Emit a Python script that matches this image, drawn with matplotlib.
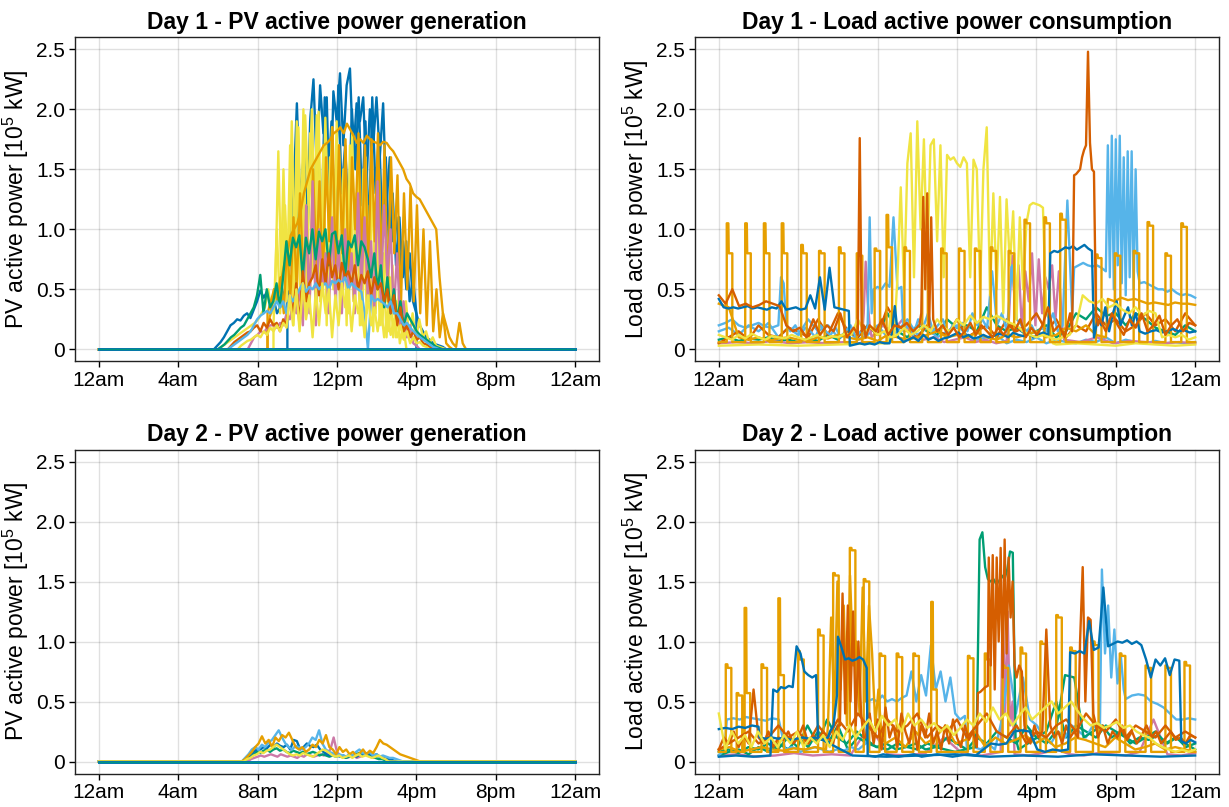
import numpy as np
import matplotlib
matplotlib.use("Agg")
import matplotlib.pyplot as plt

# colours (Wong palette)
blue, orange, green, pink = "#0072B2", "#E69F00", "#009E73", "#CC79A7"
skyblue, red, yellow = "#56B4E9", "#D55E00", "#F0E442"

xticks = [0, 4, 8, 12, 16, 20, 24]
xlabels = ["12am", "4am", "8am", "12pm", "4pm", "8pm", "12am"]
yticks = [0, 0.5, 1.0, 1.5, 2.0, 2.5]
ylabels = ["0", "0.5", "1.0", "1.5", "2.0", "2.5"]

# ---------- Day 1 PV (start hour, end hour, values) ----------
pv1_blue = [(5.8, 17.5, [0.0, 0.03, 0.06, 0.10, 0.15, 0.20, 0.22, 0.25, 0.24, 0.28, 0.30, 0.26, 0.33, 0.40,
                         0.49, 0.43, 0.48, 0.38, 0.42, 0.30, 0.35, 0.45, 0.60, 0.90, 1.30, 2.05, 1.20, 1.60,
                         0.90, 1.90, 2.25, 1.50, 2.20, 1.80, 2.10, 1.00, 2.15, 1.90, 2.30, 1.70, 2.20, 2.34,
                         1.60, 2.05, 1.90, 2.10, 1.40, 2.00, 1.70, 2.10, 1.60, 2.05, 1.20, 1.60, 0.90, 1.10,
                         0.70, 0.90, 0.50, 0.80, 0.40, 0.30, 0.20, 0.15, 0.10, 0.08, 0.05, 0.04, 0.03, 0.02, 0.0])]
pv1_blue2 = [(9.5, 16.0, [0.40, 0.90, 0.50, 1.30, 0.80, 1.60, 1.00, 2.00, 1.20, 1.80, 0.90, 2.10, 1.40, 1.90,
                          1.00, 2.20, 1.30, 1.70, 1.10, 2.00, 1.50, 2.10, 1.20, 1.90, 0.90, 2.10, 1.30, 1.80,
                          1.00, 1.60, 0.80, 1.30, 0.70, 1.10, 0.60, 0.90, 0.40, 0.60, 0.30])]
pv1_yellow = [(6.0, 17.5, [0.0, 0.02, 0.04, 0.06, 0.08, 0.10, 0.12, 0.14, 0.16, 0.18, 0.20, 0.22, 0.25, 0.30,
                           0.35, 0.50, 0.30, 0.40, 1.65, 0.40, 1.20, 0.50, 1.90, 0.60, 1.85, 0.50, 1.95, 1.20,
                           2.00, 0.80, 1.98, 0.45, 1.93, 1.00, 1.85, 0.50, 1.70, 0.90, 1.60, 0.30, 1.80, 0.60,
                           1.50, 0.20, 1.60, 0.40, 1.40, 0.30, 1.50, 0.20, 0.90, 0.15, 0.70, 0.10, 0.50, 0.10,
                           0.40, 0.10, 0.30, 0.08, 0.25, 0.10, 0.15, 0.05, 0.10, 0.03, 0.02, 0.01, 0.0])]
pv1_yellow2 = [(8.8, 15.5, [0.20, 1.00, 0.30, 1.50, 0.40, 1.70, 0.20, 1.90, 0.50, 2.00, 0.30, 1.80, 0.60, 1.95,
                            0.40, 1.70, 0.20, 1.60, 0.50, 1.90, 0.30, 1.50, 0.20, 1.70, 0.40, 1.30, 0.20, 1.50,
                            0.30, 1.20, 0.15, 1.00, 0.20, 0.80, 0.10, 0.60, 0.10, 0.40, 0.05, 0.20, 0.0])]
pv1_orange_smooth = [(8.5, 18.5, [0.30, 0.40, 0.50, 0.45, 0.55, 0.70, 0.80, 0.95, 1.00, 1.05, 1.15, 1.30, 1.40,
                                  1.50, 1.55, 1.60, 1.65, 1.70, 1.72, 1.75, 1.80, 1.82, 1.85, 1.80, 1.88, 1.83,
                                  1.78, 1.72, 1.75, 1.72, 1.78, 1.75, 1.73, 1.72, 1.70, 1.73, 1.72, 1.68, 1.65,
                                  1.60, 1.55, 1.50, 1.42, 1.38, 1.30, 1.27, 1.25, 1.20, 1.15, 1.10, 1.05, 1.00,
                                  0.60, 0.30, 0.20, 0.10, 0.05, 0.02, 0.22, 0.05, 0.0])]
pv1_orange = [(8.5, 17.83, [0.20, 0.30, 0.50, 0.40, 0.60, 0.30, 0.90, 0.40, 1.10, 0.50, 1.30, 0.60, 1.00, 0.40,
                            1.50, 0.70, 1.40, 0.50, 1.60, 0.90, 1.85, 0.60, 1.70, 0.80, 1.75, 0.50, 1.60, 1.00,
                            1.80, 0.70, 1.70, 0.60, 1.75, 0.90, 1.80, 0.60, 1.70, 0.40, 1.60, 0.80, 1.45, 0.30,
                            1.30, 0.50, 1.35, 0.40, 1.20, 0.30, 1.00, 0.20, 0.90, 0.15, 0.50, 0.10, 0.30, 0.05,
                            0.02, 0.0])]
pv1_green = [(6.0, 17.33, [0.0, 0.02, 0.04, 0.07, 0.10, 0.12, 0.15, 0.18, 0.20, 0.25, 0.30, 0.35, 0.45, 0.62,
                           0.30, 0.50, 0.35, 0.40, 0.55, 0.35, 0.60, 0.90, 0.70, 0.93, 0.85, 0.95, 0.60, 0.93,
                           0.80, 1.00, 0.75, 0.98, 0.90, 1.00, 0.70, 0.96, 0.98, 0.80, 0.95, 0.60, 0.90, 0.85,
                           0.95, 0.70, 0.90, 0.85, 0.75, 0.60, 0.80, 0.50, 0.70, 0.35, 0.60, 0.30, 0.50, 0.25,
                           0.40, 0.20, 0.30, 0.25, 0.20, 0.15, 0.12, 0.10, 0.08, 0.06, 0.04, 0.02, 0.01, 0.0])]
pv1_red = [(6.5, 17.0, [0.0, 0.03, 0.06, 0.08, 0.10, 0.12, 0.14, 0.15, 0.18, 0.20, 0.15, 0.22, 0.18, 0.25,
                        0.20, 0.22, 0.15, 0.25, 0.20, 0.45, 0.30, 0.55, 0.20, 0.65, 0.40, 0.55, 0.60, 0.70,
                        0.45, 0.75, 0.55, 0.80, 0.60, 0.70, 0.50, 0.72, 0.60, 0.65, 0.55, 0.70, 0.50, 0.62,
                        0.55, 0.65, 0.45, 0.60, 0.50, 0.55, 0.40, 0.50, 0.30, 0.45, 0.20, 0.35, 0.15, 0.20,
                        0.10, 0.15, 0.08, 0.10, 0.05, 0.04, 0.02, 0.01, 0.0])]
pv1_skyblue = [(6.5, 17.17, [0.0, 0.02, 0.04, 0.06, 0.08, 0.10, 0.12, 0.15, 0.20, 0.25, 0.28, 0.30, 0.32, 0.30,
                             0.35, 0.40, 0.35, 0.40, 0.30, 0.45, 0.40, 0.45, 0.50, 0.55, 0.48, 0.52, 0.50, 0.55,
                             0.50, 0.53, 0.55, 0.50, 0.57, 0.55, 0.58, 0.55, 0.60, 0.50, 0.55, 0.52, 0.50, 0.48,
                             0.30, 0.0, 0.45, 0.40, 0.42, 0.40, 0.38, 0.35, 0.40, 0.30, 0.30, 0.25, 0.20, 0.22,
                             0.18, 0.15, 0.12, 0.10, 0.08, 0.06, 0.04, 0.02, 0.01, 0.0])]
pv1_yellow_low = [(7.0, 16.67, [0.0, 0.03, 0.05, 0.07, 0.08, 0.10, 0.12, 0.10, 0.15, 0.12, 0.18, 0.15, 0.20,
                                0.15, 0.22, 0.18, 0.45, 0.20, 0.50, 0.15, 0.55, 0.25, 0.45, 0.10, 0.50, 0.20,
                                0.55, 0.30, 0.50, 0.10, 0.45, 0.20, 0.55, 0.35, 0.50, 0.15, 0.45, 0.30, 0.40,
                                0.10, 0.45, 0.20, 0.35, 0.15, 0.35, 0.10, 0.30, 0.12, 0.25, 0.10, 0.20, 0.08,
                                0.15, 0.05, 0.10, 0.05, 0.06, 0.03, 0.02, 0.0])]
pv1_pink = [(7.5, 16.17, [0.0, 0.05, 0.10, 0.12, 0.15, 0.14, 0.18, 0.20, 0.20, 0.18, 0.22, 0.20, 0.30, 0.25,
                          0.40, 0.30, 0.50, 0.20, 1.20, 0.30, 1.40, 0.20, 1.00, 0.50, 0.80, 0.30, 1.10, 0.40,
                          0.90, 0.30, 1.00, 0.50, 0.80, 0.30, 1.30, 0.50, 1.10, 0.40, 0.90, 0.30, 1.40, 0.40,
                          1.20, 0.60, 1.00, 0.30, 0.80, 0.20, 0.40, 0.10, 0.20, 0.05, 0.03, 0.0])]

# ---------- Day 2 PV ----------
pv2_orange = [(7.2, 16.2, [0.0, 0.02, 0.05, 0.08, 0.12, 0.15, 0.21, 0.15, 0.18, 0.12, 0.20, 0.17, 0.22, 0.20,
                           0.24, 0.18, 0.12, 0.10, 0.12, 0.08, 0.10, 0.14, 0.12, 0.18, 0.15, 0.22, 0.12, 0.10,
                           0.06, 0.12, 0.08, 0.10, 0.06, 0.08, 0.05, 0.07, 0.10, 0.06, 0.09, 0.07, 0.12, 0.18,
                           0.15, 0.14, 0.12, 0.10, 0.08, 0.06, 0.05, 0.04, 0.03, 0.02, 0.01, 0.0])]
pv2_skyblue = [(7.2, 15.33, [0.0, 0.03, 0.06, 0.10, 0.12, 0.10, 0.14, 0.12, 0.16, 0.18, 0.22, 0.26, 0.20, 0.15,
                             0.12, 0.10, 0.13, 0.12, 0.10, 0.12, 0.15, 0.20, 0.18, 0.26, 0.15, 0.10, 0.08, 0.07,
                             0.05, 0.06, 0.05, 0.04, 0.06, 0.05, 0.08, 0.10, 0.07, 0.06, 0.08, 0.05, 0.06, 0.04,
                             0.05, 0.04, 0.03, 0.03, 0.02, 0.01, 0.0])]
pv2_blue = [(7.3, 15.0, [0.0, 0.03, 0.06, 0.08, 0.10, 0.10, 0.12, 0.11, 0.14, 0.12, 0.15, 0.13, 0.12, 0.14,
                         0.10, 0.18, 0.17, 0.10, 0.12, 0.15, 0.13, 0.12, 0.14, 0.10, 0.08, 0.06, 0.05, 0.06,
                         0.05, 0.04, 0.05, 0.04, 0.06, 0.05, 0.04, 0.06, 0.05, 0.07, 0.06, 0.05, 0.06, 0.04,
                         0.03, 0.02, 0.02, 0.01, 0.0])]
pv2_green = [(7.3, 14.6, [0.0, 0.02, 0.04, 0.06, 0.08, 0.07, 0.09, 0.10, 0.08, 0.10, 0.11, 0.09, 0.10, 0.08,
                          0.07, 0.09, 0.08, 0.07, 0.08, 0.06, 0.07, 0.08, 0.07, 0.05, 0.06, 0.05, 0.04, 0.05,
                          0.04, 0.05, 0.04, 0.03, 0.04, 0.05, 0.06, 0.07, 0.05, 0.06, 0.05, 0.04, 0.03, 0.02,
                          0.02, 0.01, 0.0])]
pv2_yellow = [(7.3, 14.6, [0.0, 0.02, 0.03, 0.05, 0.06, 0.08, 0.07, 0.09, 0.10, 0.12, 0.14, 0.12, 0.10, 0.08,
                           0.06, 0.05, 0.06, 0.05, 0.07, 0.06, 0.05, 0.04, 0.06, 0.08, 0.10, 0.09, 0.07, 0.05,
                           0.04, 0.05, 0.03, 0.04, 0.05, 0.03, 0.05, 0.06, 0.04, 0.05, 0.04, 0.03, 0.04, 0.05,
                           0.03, 0.02, 0.0])]
pv2_pink = [(7.5, 14.83, [0.0, 0.02, 0.03, 0.04, 0.05, 0.04, 0.05, 0.06, 0.05, 0.04, 0.06, 0.05, 0.04, 0.05,
                          0.04, 0.03, 0.05, 0.04, 0.06, 0.05, 0.04, 0.05, 0.06, 0.05, 0.07, 0.10, 0.20, 0.08,
                          0.05, 0.04, 0.03, 0.04, 0.05, 0.03, 0.04, 0.05, 0.06, 0.04, 0.03, 0.05, 0.04, 0.03,
                          0.02, 0.01, 0.0])]

# ---------- Day 1 load ----------
ld1_pulse_start = [0.40, 1.33, 2.27, 3.17, 4.15, 5.05, 6.05, 6.95, 7.85, 8.45, 9.35, 10.25, 11.2, 12.1,
                   12.9, 13.7, 14.6, 15.4, 16.4, 17.2, 19.0, 19.95, 20.9, 21.6, 22.5, 23.3]
ld1_pulse_peak = [1.05, 1.05, 1.05, 1.05, 0.87, 0.82, 0.85, 0.80, 0.84, 1.12, 0.85, 1.00, 0.84, 0.84,
                  0.84, 0.85, 0.82, 1.08, 1.10, 1.13, 0.79, 0.80, 0.82, 1.06, 0.80, 1.05]
ld1_pulse_shoulder = [0.80, 0.80, 0.80, 0.80, 0.80, 0.80, 0.80, 0.78, 0.82, 0.85, 0.82, 0.85, 0.80, 0.82,
                      0.82, 0.82, 0.80, 1.05, 1.05, 1.08, 0.76, 0.78, 0.80, 1.03, 0.78, 1.02]
ld1_pulse_base = 0.06

ld1_yellow_big = [(0.0, 8.0, [0.03, 0.04, 0.03, 0.04, 0.05]),
                  (8.5, 16.83, [0.05, 0.30, 0.10, 0.60, 1.35, 0.50, 1.55, 1.80, 0.60, 1.90, 1.00, 1.75, 0.70,
                                1.70, 1.75, 0.90, 1.70, 0.60, 1.62, 1.58, 1.60, 1.55, 1.52, 1.60, 1.55, 0.60,
                                1.58, 1.50, 0.50, 1.50, 1.85, 0.45, 1.30, 0.50, 1.27, 0.30, 1.25, 0.70, 1.15,
                                0.25, 1.10, 0.50, 1.05, 1.20, 1.22, 1.21, 1.20, 1.18, 0.30, 0.25, 0.05]),
                  (17.0, 24.0, [0.04, 0.05, 0.04, 0.03, 0.05, 0.04, 0.03, 0.04])]
ld1_yellow = [(0.0, 24.0, [0.12, 0.10, 0.08, 0.12, 0.09, 0.13, 0.10, 0.08, 0.11, 0.10, 0.09, 0.12, 0.10,
                           0.08, 0.10, 0.12, 0.09, 0.11, 0.10, 0.13, 0.12, 0.25, 0.15, 0.18, 0.12, 0.15,
                           0.10, 0.12, 0.18, 0.12, 0.15, 0.20, 0.15, 0.25, 0.18, 0.15, 0.25, 0.20, 0.28,
                           0.22, 0.27, 0.25, 0.28, 0.25, 0.22, 0.20, 0.15, 0.12, 0.10, 0.12, 0.10, 0.08,
                           0.10, 0.12, 0.20, 0.45, 0.40, 0.38, 0.42, 0.35, 0.38, 0.33, 0.30, 0.35, 0.28,
                           0.32, 0.30, 0.10, 0.12, 0.10, 0.12, 0.08, 0.10])]
ld1_red = [(0.0, 6.8, [0.45, 0.38, 0.50, 0.36, 0.38, 0.35, 0.37, 0.40, 0.38, 0.36, 0.20, 0.15, 0.18, 0.10,
                       0.25, 0.12, 0.20, 0.15, 0.30, 0.10, 0.18]),
           (7.0, 7.4, [0.12, 1.76, 0.15, 0.20, 0.10]),
           (7.6, 10.1, [0.20, 0.15, 0.25, 0.12, 0.20, 0.18, 0.22, 0.15, 0.20]),
           (10.2, 10.8, [0.30, 1.27, 0.50, 1.30, 0.20, 1.10, 0.25]),
           (11.0, 17.7, [0.15, 0.20, 0.12, 0.18, 0.10, 0.15, 0.22, 0.12, 0.20, 0.15, 0.10, 0.18, 0.12, 0.20,
                         0.15, 0.25, 0.10, 0.18, 0.12, 0.20, 0.35, 0.15, 0.20, 0.10, 0.30]),
           (17.8, 19.1, [0.15, 1.45, 1.46, 1.48, 1.50, 1.60, 1.66, 1.70, 2.48, 1.72, 1.50, 1.48, 0.30, 0.20]),
           (19.2, 24.0, [0.25, 0.15, 0.30, 0.20, 0.12, 0.25, 0.18, 0.30, 0.15, 0.20, 0.28, 0.12, 0.20, 0.25,
                         0.15, 0.22, 0.20])]
ld1_red2 = [(0.0, 24.0, [0.05, 0.10, 0.15, 0.08, 0.20, 0.12, 0.10, 0.18, 0.15, 0.10, 0.25, 0.12, 0.30, 0.15,
                         0.10, 0.20, 0.12, 0.35, 0.20, 0.15, 0.10, 0.20, 0.15, 0.12, 0.25, 0.10, 0.15, 0.20,
                         0.10, 0.25, 0.15, 0.20, 0.30, 0.15, 0.25, 0.10, 0.20, 0.15, 0.30, 0.20, 0.25, 0.15,
                         0.20, 0.30, 0.20, 0.25, 0.15, 0.30, 0.20])]
ld1_skyblue = [(0.0, 3.0, [0.20, 0.22, 0.25, 0.20, 0.18, 0.20, 0.22, 0.19, 0.18, 0.20]),
               (3.0, 3.4, [0.20, 0.60, 0.55, 0.20]),
               (3.6, 7.4, [0.15, 0.20, 0.12, 0.18, 0.15, 0.10, 0.20, 0.15, 0.12, 0.18, 0.10, 0.15, 0.20, 0.10,
                           0.15, 0.12]),
               (7.5, 7.7, [0.20, 1.10, 0.30]),
               (7.8, 9.2, [0.50, 0.52, 0.50, 0.55, 0.52, 1.10, 0.50, 0.52]),
               (9.3, 16.5, [0.15, 0.20, 0.12, 0.25, 0.18, 0.30, 0.15, 0.20, 0.25, 0.12, 0.20, 0.18, 0.22, 0.15,
                            0.30, 0.20, 0.25, 0.18, 0.65, 0.20, 0.30, 0.15, 0.70, 0.25, 0.20, 0.15, 0.20, 0.12,
                            0.18, 0.15]),
               (16.6, 17.8, [0.20, 0.30, 0.15, 0.20, 1.24, 0.30]),
               (17.9, 19.5, [0.68, 0.70, 0.72, 0.70, 0.69, 0.70, 0.68, 0.65]),
               (19.6, 21.1, [1.70, 0.60, 1.78, 0.50, 1.75, 0.70, 1.78, 0.55, 1.60, 0.45, 1.65, 0.60, 1.65, 0.50,
                             1.50, 0.65]),
               (21.2, 24.0, [0.55, 0.56, 0.54, 0.52, 0.50, 0.50, 0.48, 0.50, 0.47, 0.45, 0.46, 0.45, 0.43])]
ld1_skyblue_low = [(0.0, 24.0, [0.15, 0.18, 0.12, 0.20, 0.15, 0.22, 0.10, 0.18, 0.12, 0.25, 0.15, 0.20, 0.10,
                                0.15, 0.08, 0.12, 0.20, 0.10, 0.15, 0.25, 0.12, 0.18, 0.10, 0.15, 0.20, 0.12,
                                0.08, 0.10, 0.12, 0.05, 0.08, 0.06, 0.10, 0.05, 0.08, 0.06, 0.05, 0.08, 0.06,
                                0.10, 0.05, 0.08, 0.06, 0.05, 0.07, 0.05, 0.06, 0.05, 0.06])]
ld1_blue = [(0.0, 6.55, [0.42, 0.35, 0.34, 0.35, 0.34, 0.35, 0.36, 0.34, 0.35, 0.34, 0.33, 0.35, 0.34, 0.40,
                         0.33, 0.34, 0.35, 0.33, 0.34, 0.45, 0.34, 0.60, 0.33, 0.68, 0.35, 0.34, 0.33, 0.32]),
            (6.6, 8.6, [0.03, 0.04, 0.05, 0.04, 0.05, 0.04, 0.06, 0.05, 0.05]),
            (8.7, 9.2, [0.12, 0.36, 0.10, 0.08]),
            (9.3, 16.6, [0.06, 0.08, 0.10, 0.07, 0.12, 0.08, 0.10, 0.07, 0.09, 0.10, 0.12, 0.14, 0.10, 0.12,
                         0.09, 0.10, 0.12, 0.10, 0.11, 0.13, 0.12, 0.10, 0.14, 0.12, 0.11, 0.13, 0.10, 0.12,
                         0.14, 0.12]),
            (16.7, 18.8, [0.80, 0.82, 0.81, 0.83, 0.85, 0.84, 0.86, 0.83, 0.85, 0.87, 0.84, 0.82]),
            (18.9, 21.0, [0.10, 0.25, 0.20, 0.35, 0.15, 0.30, 0.40, 0.20, 0.28, 0.35, 0.20, 0.30]),
            (21.2, 24.0, [0.15, 0.13, 0.15, 0.16, 0.14, 0.15, 0.17, 0.15, 0.16, 0.14, 0.15])]
ld1_pink = [(0.0, 7.2, [0.05, 0.06, 0.05, 0.07, 0.05, 0.06, 0.05, 0.06, 0.05]),
            (7.3, 7.6, [0.30, 0.73, 0.40, 0.20]),
            (7.7, 14.5, [0.10, 0.20, 0.15, 0.25, 0.10, 0.08, 0.10, 0.06, 0.08, 0.10, 0.06, 0.08, 0.05, 0.07]),
            (14.6, 17.3, [0.20, 0.78, 0.30, 0.70, 0.15, 0.65, 0.40, 0.80, 0.20, 0.75, 0.30, 0.60, 0.50, 0.70,
                          0.25, 0.65, 0.20]),
            (17.4, 24.0, [0.08, 0.06, 0.10, 0.05, 0.07, 0.06, 0.05, 0.06, 0.05])]
ld1_green = [(0.0, 24.0, [0.08, 0.10, 0.07, 0.09, 0.08, 0.10, 0.07, 0.08, 0.06, 0.09, 0.07, 0.12, 0.08, 0.15,
                          0.10, 0.20, 0.12, 0.30, 0.15, 0.10, 0.20, 0.15, 0.12, 0.25, 0.18, 0.20, 0.15, 0.35,
                          0.20, 0.15, 0.18, 0.12, 0.15, 0.20, 0.10, 0.15, 0.30, 0.25, 0.35, 0.28, 0.30, 0.20,
                          0.30, 0.25, 0.18, 0.15, 0.12, 0.20, 0.15])]
ld1_orange = [(0.0, 19.5, [0.38, 0.35, 0.10, 0.08, 0.10, 0.07, 0.09, 0.10, 0.08, 0.07, 0.10, 0.09, 0.12, 0.10,
                           0.08, 0.10, 0.07, 0.12, 0.10, 0.08, 0.10, 0.12, 0.15, 0.10, 0.12, 0.10, 0.14, 0.10,
                           0.08, 0.12, 0.10, 0.12, 0.15, 0.10, 0.12, 0.18, 0.15, 0.20, 0.12, 0.10]),
              (19.6, 24.0, [0.42, 0.40, 0.43, 0.41, 0.42, 0.40, 0.38, 0.39, 0.38, 0.37, 0.39, 0.38, 0.38, 0.37])]

# ---------- Day 2 load ----------
ld2_pulse_start = [0.35, 0.90, 1.30, 2.15, 3.00, 4.00, 5.00, 5.76, 6.60, 7.30, 8.10, 8.96, 9.80, 10.70,
                   12.55, 13.40, 14.30, 15.20, 16.20, 17.00, 17.70, 18.85, 20.20, 21.50, 22.50, 23.46]
ld2_pulse_peak = [0.81, 0.57, 1.28, 0.81, 1.36, 0.92, 1.10, 1.57, 1.78, 1.52, 0.90, 0.90, 0.90, 1.33,
                  0.88, 0.90, 0.80, 0.95, 1.00, 1.22, 0.95, 1.00, 0.90, 0.80, 0.80, 0.83]
ld2_pulse_shoulder = [0.78, 0.55, 0.57, 0.78, 0.72, 0.85, 1.05, 1.55, 1.76, 1.50, 0.88, 0.87, 0.88, 0.60,
                      0.86, 0.85, 0.78, 0.90, 0.98, 1.20, 0.92, 0.97, 0.88, 0.78, 0.78, 0.80]
ld2_pulse_base = 0.08

ld2_orange = [(0.0, 5.4, [0.10, 0.12, 0.08, 0.10, 0.12, 0.10, 0.09, 0.11, 0.10, 0.12, 0.10]),
              (5.5, 8.2, [0.30, 1.20, 0.40, 1.50, 0.60, 1.30, 0.30, 1.55, 0.80, 1.00, 0.40, 1.45, 0.50, 1.30,
                          0.90, 0.30, 0.60, 0.20]),
              (8.4, 24.0, [0.15, 0.20, 0.12, 0.25, 0.15, 0.20, 0.30, 0.15, 0.18, 0.25, 0.12, 0.20, 0.15, 0.18,
                           0.22, 0.15, 0.20, 0.12, 0.15, 0.20, 0.18, 0.15, 0.12, 0.20, 0.15, 0.10, 0.12, 0.15,
                           0.10, 0.12, 0.10, 0.08])]
ld2_red = [(0.0, 6.0, [0.10, 0.20, 0.15, 0.25, 0.12, 0.22, 0.15, 0.60, 0.20, 0.15, 0.25, 0.12, 0.20, 0.18,
                       0.25, 0.15, 0.20, 0.30, 0.15, 0.22, 0.18, 0.25, 0.20, 0.15, 0.30]),
           (6.1, 7.3, [0.30, 1.40, 0.40, 1.30, 0.50, 1.25, 0.30, 1.00, 0.40, 0.20]),
           (7.4, 13.0, [0.20, 0.40, 0.15, 0.35, 0.10, 0.45, 0.20, 0.30, 0.12, 0.40, 0.25, 0.15, 0.35, 0.10,
                        0.30, 0.20, 0.40, 0.15, 0.25, 0.10, 0.30, 0.15, 0.35, 0.20, 0.12, 0.30, 0.18, 0.25,
                        0.12]),
           (13.05, 13.55, [0.57, 0.58, 0.60, 0.62, 0.63]),
           (13.6, 14.9, [1.70, 0.80, 1.72, 0.60, 1.70, 1.00, 1.78, 0.70, 1.85, 0.90, 1.70, 1.20, 1.50, 0.80]),
           (15.0, 15.4, [0.70, 0.80, 0.75, 0.30]),
           (15.5, 18.1, [0.20, 0.15, 0.30, 0.20, 0.25, 1.10, 0.30, 0.20, 0.25, 0.15, 0.30, 0.20, 0.25, 0.20]),
           (18.2, 19.0, [1.00, 1.62, 0.50, 1.20, 1.18, 0.40, 0.30]),
           (19.1, 24.0, [0.20, 0.30, 0.15, 0.25, 0.20, 0.30, 0.18, 0.25, 0.15, 0.22, 0.30, 0.20, 0.25, 0.15,
                         0.20, 0.25, 0.18, 0.20, 0.15, 0.22, 0.20])]
ld2_red2 = [(0.0, 24.0, [0.10, 0.15, 0.20, 0.25, 0.15, 0.20, 0.30, 0.20, 0.25, 0.15, 0.30, 0.20, 0.35, 0.25,
                         0.40, 0.30, 0.20, 0.35, 0.25, 0.30, 0.40, 0.20, 0.30, 0.25, 0.35, 0.20, 0.30, 0.40,
                         0.25, 0.20, 0.30, 0.15, 0.25, 0.20, 0.30, 0.35, 0.25, 0.40, 0.30, 0.25, 0.35, 0.20,
                         0.30, 0.25, 0.20, 0.30, 0.20, 0.25, 0.20])]
ld2_green = [(0.0, 12.9, [0.08, 0.10, 0.07, 0.12, 0.10, 0.15, 0.10, 0.20, 0.12, 0.30, 0.15, 0.35, 0.20, 0.15,
                          0.25, 0.18, 0.12, 0.15, 0.10, 0.12, 0.15, 0.10, 0.12, 0.10, 0.08, 0.10, 0.12]),
             (13.0, 14.95, [0.30, 1.85, 1.91, 1.62, 1.52, 1.50, 1.52, 1.48, 1.50, 1.55, 1.52, 1.60, 1.75, 1.74,
                            0.20]),
             (15.1, 24.0, [0.10, 0.15, 0.20, 0.15, 0.25, 0.72, 0.70, 0.20, 0.25, 0.30, 0.20, 0.25, 0.15, 0.20,
                           0.18, 0.22, 0.15, 0.20, 0.12, 0.15])]
ld2_green2 = [(0.0, 24.0, [0.05, 0.08, 0.10, 0.06, 0.12, 0.08, 0.15, 0.10, 0.20, 0.12, 0.25, 0.15, 0.30, 0.10,
                           0.20, 0.15, 0.12, 0.10, 0.15, 0.12, 0.10, 0.15, 0.12, 0.20, 0.15, 0.10, 0.20, 0.15,
                           0.25, 0.20, 0.15, 0.30, 0.20, 0.25, 0.50, 0.20, 0.30, 0.25, 0.20, 0.30, 0.25, 0.20,
                           0.15, 0.20, 0.25, 0.15, 0.20, 0.15, 0.10])]
ld2_pink = [(0.0, 14.2, [0.05, 0.06, 0.04, 0.05, 0.07, 0.05, 0.06, 0.05, 0.30, 0.06, 0.05, 0.07, 0.20, 0.06,
                         0.05, 0.08]),
            (14.3, 14.8, [1.30, 0.40, 1.25, 0.30, 0.50]),
            (14.9, 24.0, [0.06, 0.05, 0.07, 0.10, 0.06, 0.05, 0.07, 0.06, 0.05, 0.08, 0.35, 0.06, 0.05, 0.07])]
ld2_blue = [(0.0, 2.0, [0.27, 0.28, 0.27, 0.29, 0.28, 0.30, 0.29]),
            (2.05, 5.5, [0.20, 0.19, 0.20, 0.19, 0.20, 0.18, 0.19, 0.20, 0.19, 0.20, 0.18, 0.20]),
            (5.6, 5.95, [0.25, 0.30, 0.55]),
            (6.0, 7.45, [1.04, 0.95, 0.85, 0.86, 0.84, 0.85, 0.87, 0.85, 0.78]),
            (7.5, 17.6, [0.05, 0.04, 0.06, 0.05, 0.04, 0.05, 0.06, 0.04, 0.05, 0.06, 0.05, 0.04, 0.05, 0.06,
                         0.05, 0.10, 0.15, 0.14, 0.15, 0.25, 0.26, 0.25, 0.10, 0.08, 0.10, 0.09, 0.10]),
            (17.7, 23.2, [0.91, 0.90, 0.92, 0.90, 1.17, 0.93, 0.95, 1.45, 0.96, 0.98, 1.00, 0.99, 1.01, 0.98,
                          1.00, 0.97, 0.85, 0.70, 0.85, 0.80, 0.86, 0.72, 0.85, 0.84]),
            (23.3, 24.0, [0.17, 0.15, 0.18, 0.16])]
ld2_blue_b = [(0.0, 2.6, [0.04, 0.05, 0.04, 0.05]),
              (2.74, 4.9, [0.60, 0.58, 0.62, 0.61, 0.63, 0.62, 0.96, 0.90, 0.75, 0.72, 0.70, 0.72]),
              (5.0, 24.0, [0.20, 0.05, 0.04, 0.05, 0.06, 0.04, 0.05, 0.04, 0.06, 0.05, 0.04, 0.05])]
ld2_skyblue = [(0.0, 0.3, [0.05, 0.10]),
               (0.4, 4.0, [0.35, 0.36, 0.35, 0.37, 0.36, 0.35, 0.34, 0.36, 0.35, 0.10, 0.12, 0.10]),
               (4.1, 7.4, [0.08, 0.10, 0.12, 0.10, 0.08, 0.10, 0.09, 0.12, 0.10, 0.15]),
               (7.5, 12.4, [0.50, 0.52, 0.50, 0.55, 0.50, 0.52, 0.50, 0.53, 0.55, 0.75, 0.50, 0.72, 0.55, 0.97,
                            0.60, 0.75, 0.50, 0.70, 0.40, 0.35, 0.38]),
               (12.5, 19.2, [0.10, 0.12, 0.10, 0.15, 0.10, 0.35, 0.80, 0.40, 0.70, 0.35, 0.30, 0.20, 0.15, 0.25,
                             0.20, 0.30, 0.25, 0.20, 0.30, 0.25]),
               (19.3, 20.4, [1.60, 0.90, 1.30, 0.70, 1.10, 0.65, 0.90, 0.60]),
               (20.5, 24.0, [0.52, 0.55, 0.56, 0.55, 0.50, 0.48, 0.45, 0.40, 0.35, 0.35, 0.36, 0.35])]
ld2_yellow = [(0.0, 24.0, [0.40, 0.10, 0.25, 0.15, 0.22, 0.12, 0.25, 0.15, 0.20, 0.12, 0.22, 0.15, 0.25, 0.12,
                           0.20, 0.15, 0.22, 0.12, 0.25, 0.18, 0.30, 0.20, 0.28, 0.35, 0.25, 0.38, 0.30, 0.35,
                           0.25, 0.40, 0.30, 0.35, 0.28, 0.32, 0.25, 0.30, 0.22, 0.28, 0.35, 0.30, 0.40, 0.33,
                           0.45, 0.35, 0.40, 0.30, 0.38, 0.45, 0.35, 0.40, 0.45, 0.50, 0.40, 0.45, 0.50, 0.42,
                           0.35, 0.30, 0.32, 0.28, 0.30, 0.33, 0.28, 0.30, 0.25, 0.22, 0.20, 0.15, 0.12, 0.10,
                           0.08, 0.10, 0.08, 0.10])]


def build(segs, pad=False):
    hs, vs = [], []
    for t0, t1, vals in segs:
        hs.extend(np.linspace(t0, t1, len(vals)))
        vs.extend(vals)
    if pad:  # PV is zero through the night
        hs = [0.0, hs[0]] + hs + [hs[-1], 24.0]
        vs = [0.0, 0.0] + vs + [0.0, 0.0]
    return np.array(hs), np.array(vs)


def pulses(starts, peaks, shoulders, base):
    hs, vs = [0.0], [base]
    for t, p, s in zip(starts, peaks, shoulders):
        hs += [t, t, t + 0.08, t + 0.1, t + 0.28, t + 0.28]
        vs += [base, p, p, s, s, base]
    hs.append(24.0)
    vs.append(base)
    return np.array(hs), np.array(vs)


plt.rcParams["font.family"] = ["Liberation Sans", "DejaVu Sans"]
plt.rcParams["mathtext.default"] = "regular"

fig = plt.figure(figsize=(12.29, 8.07), dpi=100)
W, H = 1229, 807
boxes = [(75, 37.3), (695, 37.3), (75, 449.5), (695, 449.5)]
axes = [fig.add_axes([x / W, 1 - (y + 324) / H, 524 / W, 324 / H]) for x, y in boxes]

lw = 1.7
ax = axes[0]
for segs, c in [(pv1_blue2, blue), (pv1_blue, blue), (pv1_yellow, yellow), (pv1_yellow2, yellow),
                (pv1_orange, orange), (pv1_orange_smooth, orange), (pv1_pink, pink), (pv1_green, green),
                (pv1_red, red), (pv1_skyblue, skyblue), (pv1_yellow_low, yellow)]:
    h, v = build(segs, pad=True)
    ax.plot(h, v, color=c, lw=lw)
ax.plot([0, 24], [0, 0], color=blue, lw=lw + 0.4)
ax.plot([0, 24], [0, 0], color=green, lw=lw - 0.8, alpha=0.8)

ax = axes[2]
for segs, c in [(pv2_pink, pink), (pv2_green, green), (pv2_blue, blue), (pv2_skyblue, skyblue),
                (pv2_orange, orange), (pv2_yellow, yellow)]:
    h, v = build(segs, pad=True)
    ax.plot(h, v, color=c, lw=lw)
ax.plot([0, 24], [0, 0], color=blue, lw=lw + 0.4)
ax.plot([0, 24], [0, 0], color=green, lw=lw - 0.8, alpha=0.8)

ax = axes[1]
for segs, c in [(ld1_green, green), (ld1_skyblue_low, skyblue), (ld1_pink, pink), (ld1_red2, red),
                (ld1_skyblue, skyblue), (ld1_yellow_big, yellow)]:
    h, v = build(segs)
    ax.plot(h, v, color=c, lw=lw)
h, v = pulses(ld1_pulse_start, ld1_pulse_peak, ld1_pulse_shoulder, ld1_pulse_base)
ax.plot(h, v, color=orange, lw=lw)
for segs, c in [(ld1_orange, orange), (ld1_blue, blue), (ld1_yellow, yellow), (ld1_red, red)]:
    h, v = build(segs)
    ax.plot(h, v, color=c, lw=lw)

ax = axes[3]
for segs, c in [(ld2_pink, pink), (ld2_green2, green), (ld2_skyblue, skyblue), (ld2_green, green)]:
    h, v = build(segs)
    ax.plot(h, v, color=c, lw=lw)
h, v = pulses(ld2_pulse_start, ld2_pulse_peak, ld2_pulse_shoulder, ld2_pulse_base)
ax.plot(h, v, color=orange, lw=lw)
for segs, c in [(ld2_orange, orange), (ld2_red2, red), (ld2_red, red), (ld2_blue_b, blue), (ld2_blue, blue),
                (ld2_yellow, yellow)]:
    h, v = build(segs)
    ax.plot(h, v, color=c, lw=lw)

titles = ["Day 1 - PV active power generation", "Day 1 - Load active power consumption",
          "Day 2 - PV active power generation", "Day 2 - Load active power consumption"]
ylabs = ["PV active power [10$^5$ kW]", "Load active power [10$^5$ kW]",
         "PV active power [10$^5$ kW]", "Load active power [10$^5$ kW]"]
for ax, t, yl in zip(axes, titles, ylabs):
    ax.set_xlim(-1.2, 25.2)
    ax.set_ylim(-0.1, 2.6)
    ax.set_xticks(xticks)
    ax.set_xticklabels(xlabels)
    ax.set_yticks(yticks)
    ax.set_yticklabels(ylabels)
    ax.grid(True, color="#000000", alpha=0.12, lw=1)
    ax.set_axisbelow(True)
    ax.tick_params(direction="out", length=4, width=1, labelsize=15, pad=3)
    for s in ax.spines.values():
        s.set_linewidth(1)
        s.set_color("#222222")
    ax.set_title(t, fontsize=16.5, fontweight="bold", pad=6)
    ax.set_ylabel(yl, fontsize=16.5, labelpad=4)

fig.savefig("out.png", dpi=100)
